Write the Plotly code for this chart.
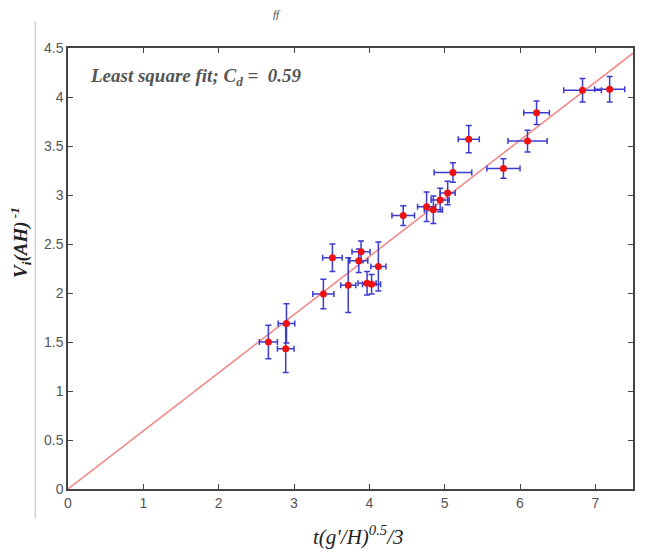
import plotly.graph_objects as go

# Data
x_vals = [2.66, 2.90, 2.89, 3.39, 3.51, 3.72, 3.86, 3.89, 3.97, 4.03, 4.12, 4.45,
          4.76, 4.85, 4.94, 5.04, 5.11, 5.32, 5.78, 6.10, 6.22, 6.83, 7.19]
y_vals = [1.50, 1.69, 1.43, 1.99, 2.36, 2.08, 2.33, 2.42, 2.10, 2.09, 2.27, 2.79,
          2.88, 2.85, 2.95, 3.02, 3.23, 3.57, 3.27, 3.55, 3.84, 4.07, 4.08]
y_err = [0.17, 0.20, 0.24, 0.15, 0.14, 0.28, 0.12, 0.11, 0.12, 0.10, 0.25, 0.10,
         0.15, 0.14, 0.12, 0.12, 0.10, 0.14, 0.10, 0.11, 0.12, 0.12, 0.13]
x_err = [0.12, 0.11, 0.11, 0.14, 0.13, 0.10, 0.12, 0.12, 0.12, 0.12, 0.10, 0.15,
         0.12, 0.12, 0.12, 0.10, 0.25, 0.14, 0.22, 0.26, 0.17, 0.25, 0.20]

fit_x = [0, 7.5]
fit_slope = 0.593
fit_y = [v * fit_slope for v in fit_x]

x_ticks = [0, 1, 2, 3, 4, 5, 6, 7]
y_ticks = [0, 0.5, 1, 1.5, 2, 2.5, 3, 3.5, 4, 4.5]
y_tick_text = ["0", "0.5", "1", "1.5", "2", "2.5", "3", "3.5", "4", "4.5"]

fig = go.Figure()

fig.add_trace(go.Scatter(
    x=fit_x, y=fit_y, mode="lines",
    line=dict(color="#f08a8a", width=1.6),
    hoverinfo="skip", showlegend=False,
))

fig.add_trace(go.Scatter(
    x=x_vals, y=y_vals, mode="markers",
    marker=dict(color="#ee1111", size=7),
    error_y=dict(type="data", array=y_err, color="#3b3bcf", thickness=1.5, width=3),
    error_x=dict(type="data", array=x_err, color="#3b3bcf", thickness=1.5, width=3),
    showlegend=False,
))

axis_common = dict(
    showline=True, mirror="ticks", linecolor="#444444", linewidth=1.5,
    ticks="inside", ticklen=5, tickcolor="#444444", tickwidth=1,
    showgrid=False, zeroline=False,
    tickfont=dict(family="Liberation Sans, Arial", size=14, color="#555555"),
)

fig.update_layout(
    width=668, height=552,
    margin=dict(l=60, r=43, t=40, b=71),
    paper_bgcolor="white", plot_bgcolor="white",
    xaxis=dict(range=[0, 7.5], tickvals=x_ticks, **axis_common),
    yaxis=dict(range=[0, 4.5], tickvals=y_ticks, ticktext=y_tick_text, **axis_common),
    annotations=[
        dict(text="<b><i>Least square fit; C<sub>d</sub> =  0.59</i></b>",
             x=0.036, y=0.935, xref="paper", yref="paper",
             xanchor="left", yanchor="middle", showarrow=False,
             font=dict(family="Liberation Serif, serif", size=19, color="#555555")),
        dict(text="<i>t(g'/H)<sup>0.5</sup>/3</i>",
             x=0.515, y=-0.105, xref="paper", yref="paper",
             xanchor="center", yanchor="middle", showarrow=False,
             font=dict(family="Liberation Serif, serif", size=21, color="#222222")),
        dict(text="<b><i>V<sub>i</sub>(AH)<sup> -1</sup></i></b>",
             x=-0.085, y=0.56, xref="paper", yref="paper",
             xanchor="center", yanchor="middle", showarrow=False, textangle=-90,
             font=dict(family="Liberation Serif, serif", size=19, color="#222222")),
        dict(text="<i>ff</i>",
             x=0.37, y=1.078, xref="paper", yref="paper",
             xanchor="center", yanchor="middle", showarrow=False,
             font=dict(family="Liberation Serif, serif", size=11, color="#444444")),
    ],
    shapes=[
        dict(type="line", xref="paper", yref="paper",
             x0=-0.058, x1=-0.058, y0=-0.066, y1=1.06,
             line=dict(color="#bbbbbb", width=1)),
    ],
)

fig.write_html("out.html")
